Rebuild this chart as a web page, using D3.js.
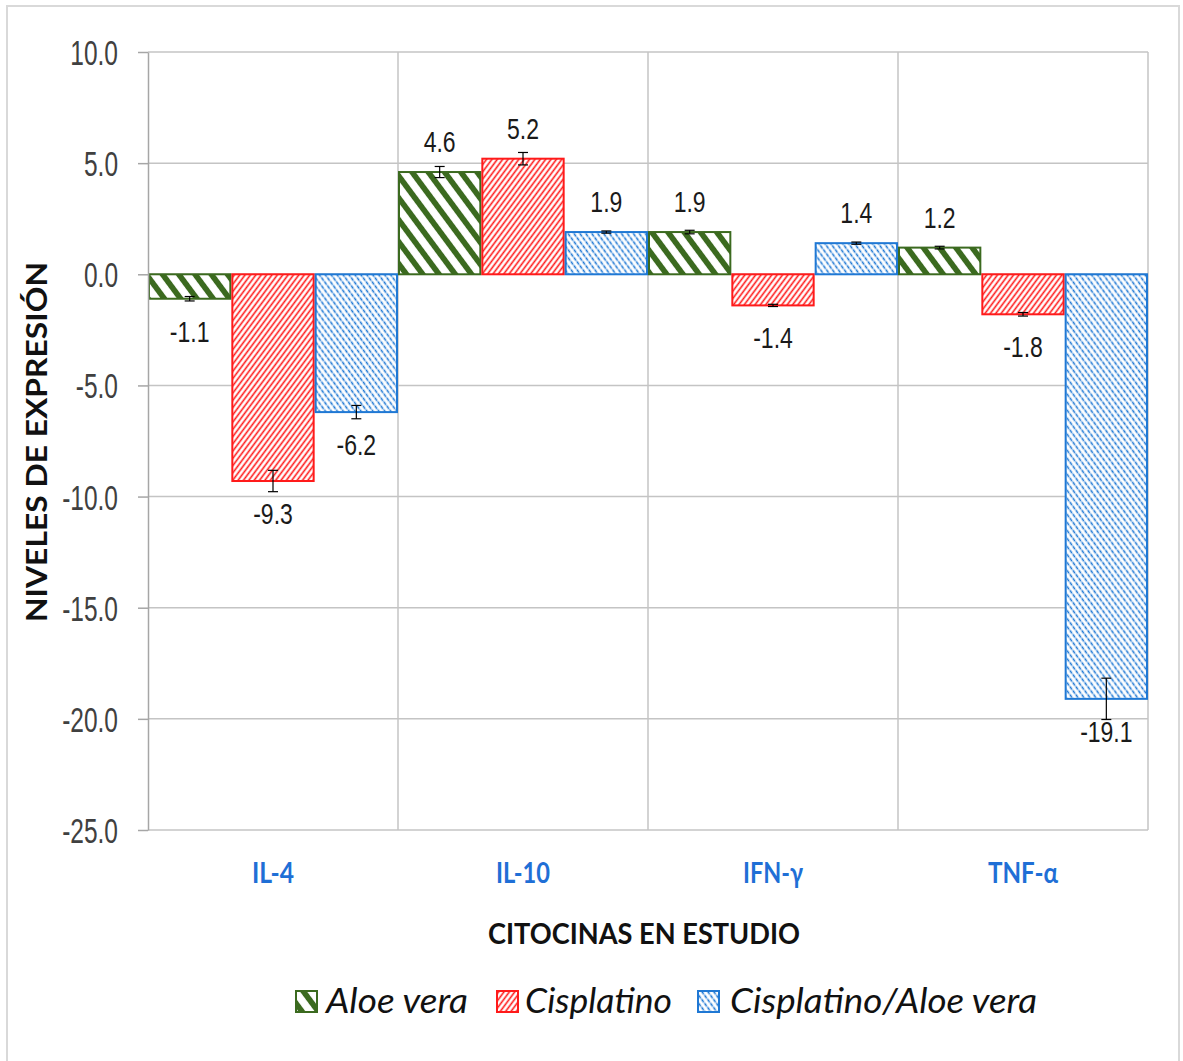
<!DOCTYPE html>
<html>
<head>
<meta charset="utf-8">
<script src="https://cdn.jsdelivr.net/npm/d3@7"></script>
<style>
  html, body { margin: 0; padding: 0; background: #fff; }
  svg { display: block; }
</style>
</head>
<body>
<svg id="chart" width="1183" height="1061"></svg>
<script>
// Cytokine expression levels per treatment group
const categories = ["IL-4", "IL-10", "IFN-γ", "TNF-α"];
const seriesNames = ["Aloe vera", "Cisplatino", "Cisplatino/Aloe vera"];
const aloeVera = [-1.1, 4.6, 1.9, 1.2];
const cisplatino = [-9.3, 5.2, -1.4, -1.8];
const cisplatinoAloe = [-6.2, 1.9, 1.4, -19.1];
// error bar half-widths
const aloeVeraErr = [0.1, 0.25, 0.08, 0.06];
const cisplatinoErr = [0.48, 0.28, 0.05, 0.08];
const cisplatinoAloeErr = [0.3, 0.05, 0.05, 0.93];
const yTicks = [10, 5, 0, -5, -10, -15, -20, -25];
const yDomain = [-25, 10];

const seriesValues = [aloeVera, cisplatino, cisplatinoAloe];
const seriesErrs = [aloeVeraErr, cisplatinoErr, cisplatinoAloeErr];
const seriesColors = ["#3b6a1f", "#ff1a1a", "#1f78d4"];
const patternIds = ["hatchAloe", "hatchCis", "hatchCombo"];

const plot = { left: 148, right: 1148, top: 52, bottom: 830 };
const svg = d3.select("#chart");
const fmt = v => v.toFixed(1);

// hatch patterns
const defs = svg.append("defs");
function hatch(id, color, period, width, angle, dash) {
  const p = defs.append("pattern")
    .attr("id", id)
    .attr("patternUnits", "userSpaceOnUse")
    .attr("width", period).attr("height", period)
    .attr("patternTransform", `scale(1,1.35) rotate(${angle})`);
  p.append("rect").attr("width", period).attr("height", period).attr("fill", "#fff");
  const l = p.append("line")
    .attr("x1", period / 2).attr("y1", -1)
    .attr("x2", period / 2).attr("y2", period + 1)
    .attr("stroke", color).attr("stroke-width", width);
  if (dash) l.attr("stroke-dasharray", dash);
}
hatch("hatchAloe", seriesColors[0], 11.5, 5, -45);
hatch("hatchCis", seriesColors[1], 3.8, 1.4, 45);
hatch("hatchCombo", seriesColors[2], 4.2, 1.4, -45, "3 1");

// chart border
svg.append("rect")
  .attr("x", 7).attr("y", 6).attr("width", 1172).attr("height", 1070)
  .attr("fill", "none").attr("stroke", "#d9d9d9").attr("stroke-width", 2);

const x = d3.scaleBand().domain(categories).range([plot.left, plot.right]).padding(0);
const xs = d3.scaleBand().domain(d3.range(seriesNames.length)).range([0, x.bandwidth()]).padding(0);
const y = d3.scaleLinear().domain(yDomain).range([plot.bottom, plot.top]);

// gridlines
const grid = svg.append("g").attr("stroke", "#c4c4c4").attr("stroke-width", 1.5);
grid.selectAll("line.h").data(yTicks).join("line")
  .attr("x1", plot.left).attr("x2", plot.right)
  .attr("y1", d => y(d)).attr("y2", d => y(d));
grid.selectAll("line.v").data(categories).join("line")
  .attr("x1", d => x(d) + x.bandwidth()).attr("x2", d => x(d) + x.bandwidth())
  .attr("y1", plot.top).attr("y2", plot.bottom);

// bars
const rows = [];
categories.forEach((c, ci) => {
  seriesValues.forEach((vals, si) => {
    rows.push({ cat: c, s: si, v: vals[ci], e: seriesErrs[si][ci] });
  });
});

svg.append("g").selectAll("rect").data(rows).join("rect")
  .attr("x", d => x(d.cat) + xs(d.s) + 1)
  .attr("width", xs.bandwidth() - 2)
  .attr("y", d => y(Math.max(0, d.v)))
  .attr("height", d => Math.abs(y(d.v) - y(0)))
  .attr("fill", d => `url(#${patternIds[d.s]})`)
  .attr("stroke", d => seriesColors[d.s])
  .attr("stroke-width", 2);

// error bars
const eb = svg.append("g").attr("stroke", "#000").attr("stroke-width", 1.2);
rows.forEach(d => {
  const cx = x(d.cat) + xs(d.s) + xs.bandwidth() / 2;
  const y1 = y(d.v + d.e), y2 = y(d.v - d.e);
  eb.append("line").attr("x1", cx).attr("x2", cx).attr("y1", y1).attr("y2", y2);
  [y1, y2].forEach(yy => eb.append("line")
    .attr("x1", cx - 5).attr("x2", cx + 5).attr("y1", yy).attr("y2", yy));
});

// value labels
svg.append("g").selectAll("text").data(rows).join("text")
  .attr("transform", d => {
    const cx = x(d.cat) + xs(d.s) + xs.bandwidth() / 2;
    const by = d.v >= 0 ? y(d.v) - 20 : y(d.v) + 43;
    return `translate(${cx},${by}) scale(1,1.3)`;
  })
  .attr("text-anchor", "middle")
  .attr("font-family", "Liberation Sans, Arial, sans-serif")
  .attr("font-size", 23)
  .attr("fill", "#1a1a1a")
  .text(d => fmt(d.v));

// y axis
const yAxis = svg.append("g")
  .attr("transform", `translate(${plot.left},0)`)
  .call(d3.axisLeft(y).tickValues(yTicks).tickSize(10).tickSizeOuter(0).tickFormat(fmt));
yAxis.select(".domain").attr("stroke", "#a6a6a6").attr("stroke-width", 1.5);
yAxis.selectAll(".tick line").attr("stroke", "#a6a6a6").attr("stroke-width", 1.5);
yAxis.selectAll(".tick text")
  .attr("x", null).attr("dy", null)
  .attr("transform", "translate(-30,12.5) scale(1,1.4)")
  .attr("text-anchor", "end")
  .attr("font-family", "Liberation Sans, Arial, sans-serif")
  .attr("font-size", 24.5)
  .attr("fill", "#404040");

// category labels
const catWidths = [42, 54, 60, 70];
svg.append("g").selectAll("text").data(categories).join("text")
  .attr("x", d => x(d) + x.bandwidth() / 2)
  .attr("y", 883)
  .attr("text-anchor", "middle")
  .attr("font-family", "Lato, sans-serif")
  .attr("font-weight", "bold")
  .attr("font-size", 28)
  .attr("textLength", (d, i) => catWidths[i])
  .attr("lengthAdjust", "spacingAndGlyphs")
  .attr("fill", "#1f6fd6")
  .text(d => d);

// axis titles
svg.append("text")
  .attr("x", 644).attr("y", 944)
  .attr("text-anchor", "middle")
  .attr("font-family", "Lato, sans-serif")
  .attr("font-weight", "bold")
  .attr("font-size", 29)
  .attr("textLength", 312).attr("lengthAdjust", "spacingAndGlyphs")
  .attr("fill", "#111")
  .text("CITOCINAS EN ESTUDIO");

svg.append("text")
  .attr("transform", "translate(47,442) rotate(-90)")
  .attr("text-anchor", "middle")
  .attr("font-family", "Lato, sans-serif")
  .attr("font-weight", "bold")
  .attr("font-size", 28)
  .attr("textLength", 360).attr("lengthAdjust", "spacingAndGlyphs")
  .attr("fill", "#111")
  .text("NIVELES DE EXPRESIÓN");

// legend
const legendItems = [
  { sx: 296, tx: 326, w: 142 },
  { sx: 497, tx: 525, w: 147 },
  { sx: 698, tx: 730, w: 307 }
];
const lg = svg.append("g");
seriesNames.forEach((name, i) => {
  const it = legendItems[i];
  lg.append("rect")
    .attr("x", it.sx).attr("y", 991).attr("width", 21).attr("height", 21)
    .attr("fill", `url(#${patternIds[i]})`)
    .attr("stroke", seriesColors[i]).attr("stroke-width", 2);
  lg.append("text")
    .attr("x", it.tx).attr("y", 1013)
    .attr("font-family", "Lato, sans-serif")
    .attr("font-style", "italic")
    .attr("font-size", 34)
    .attr("textLength", it.w).attr("lengthAdjust", "spacingAndGlyphs")
    .attr("fill", "#111")
    .text(name);
});
</script>
</body>
</html>
